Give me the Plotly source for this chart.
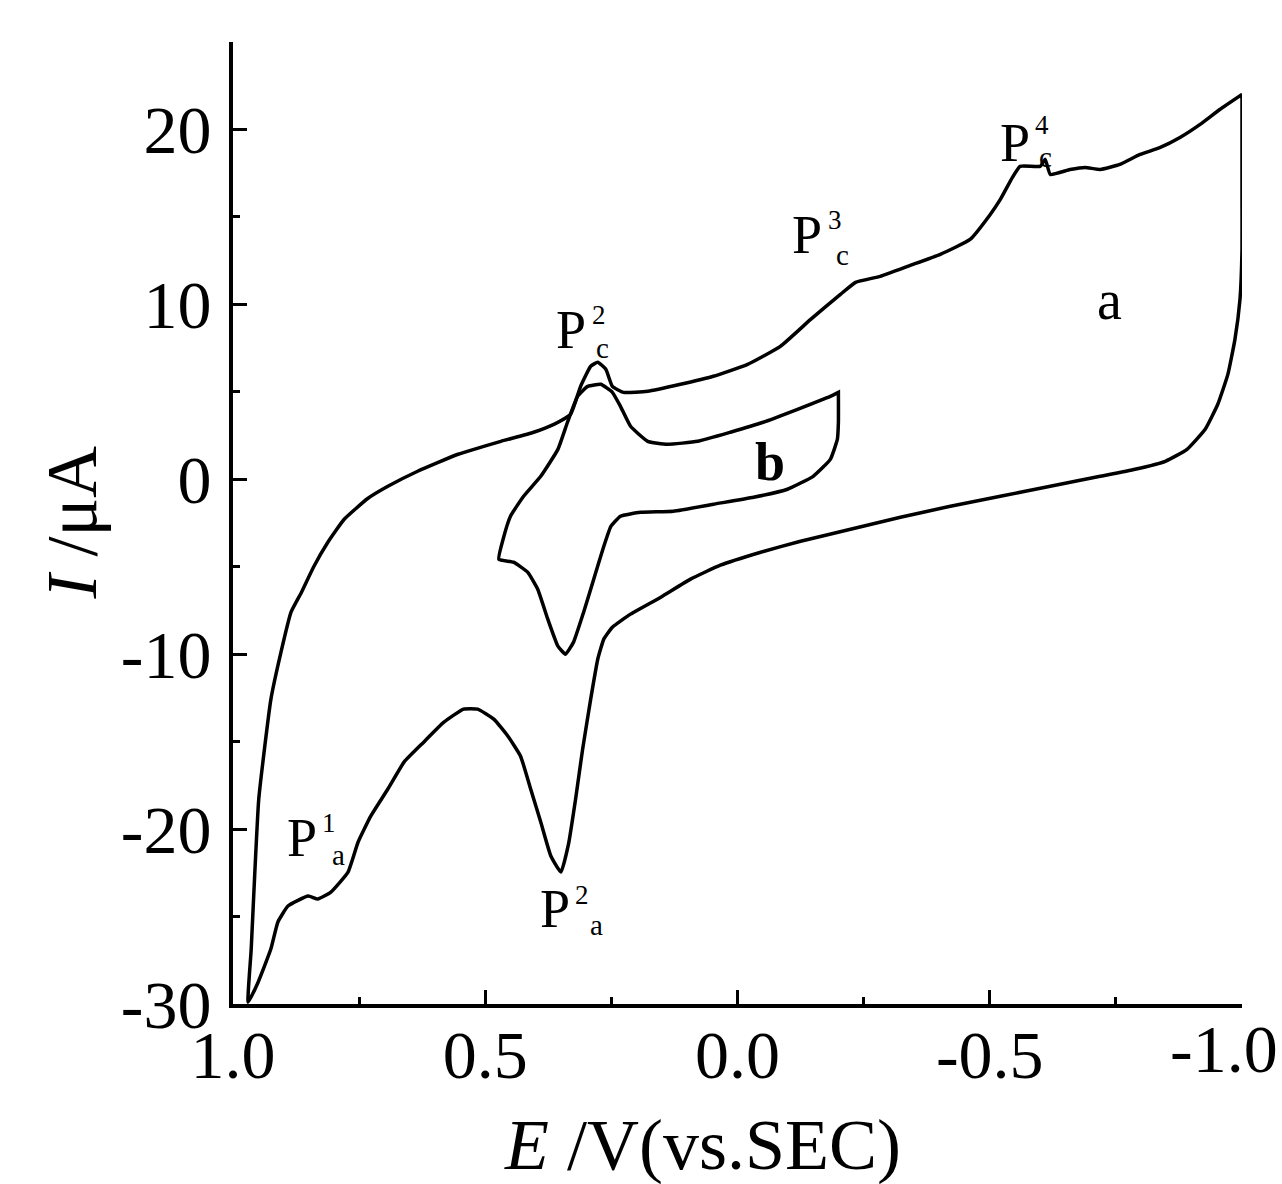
import plotly.graph_objects as go

# Cyclic voltammograms: curve a (wide window) and curve b (narrow window)
# Potential E in V (vs. SCE), current I in microampere.

# --- curve a, cathodic sweep (1.0 V -> -1.0 V)
a_fwd_E = [0.970, 0.964, 0.949, 0.925, 0.905, 0.885, 0.865, 0.840, 0.812, 0.780,
           0.733, 0.693, 0.634, 0.554, 0.469, 0.404, 0.364, 0.331, 0.311, 0.291,
           0.277, 0.261, 0.248, 0.226, 0.178, 0.113, 0.048, -0.020, -0.085, -0.145,
           -0.204, -0.234, -0.283, -0.340, -0.402, -0.461, -0.501, -0.521, -0.545, -0.560,
           -0.600, -0.610, -0.620, -0.659, -0.689, -0.719, -0.758, -0.798, -0.838, -0.877,
           -0.917, -0.956, -1.000]
a_fwd_I = [-29.9, -26.9, -18.3, -12.6, -9.9, -7.6, -6.5, -5.0, -3.6, -2.3,
           -1.1, -0.4, 0.46, 1.43, 2.17, 2.69, 3.14, 3.71, 5.31, 6.46,
           6.69, 6.29, 5.31, 4.97, 5.03, 5.43, 5.89, 6.57, 7.6, 9.14,
           10.57, 11.26, 11.6, 12.2, 12.86, 13.71, 15.14, 16.0, 17.26, 17.89,
           17.89, 18.29, 17.43, 17.71, 17.83, 17.71, 18.0, 18.57, 18.97, 19.54,
           20.29, 21.14, 22.0]

# --- curve a, anodic sweep (-1.0 V -> 1.0 V)
a_rev_E = [-1.000, -1.000, -1.000, -0.996, -0.986, -0.972, -0.952, -0.927, -0.891, -0.848,
           -0.788, -0.719, -0.620, -0.521, -0.422, -0.323, -0.224, -0.125, -0.046, 0.034,
           0.093, 0.152, 0.212, 0.248, 0.265, 0.277, 0.291, 0.307, 0.321, 0.335,
           0.350, 0.370, 0.390, 0.410, 0.430, 0.455, 0.483, 0.515, 0.543, 0.582,
           0.622, 0.661, 0.693, 0.727, 0.752, 0.772, 0.806, 0.832, 0.851, 0.891,
           0.911, 0.925, 0.950, 0.970]
a_rev_I = [22.0, 16.0, 13.14, 10.29, 8.0, 6.0, 4.29, 2.86, 1.71, 1.03,
           0.57, 0.17, -0.4, -0.97, -1.54, -2.17, -2.86, -3.54, -4.17, -4.91,
           -5.71, -6.74, -7.71, -8.46, -9.14, -10.29, -12.57, -15.43, -18.29, -20.86,
           -22.46, -21.54, -19.6, -17.71, -15.83, -14.69, -13.71, -13.14, -13.14, -13.89,
           -15.03, -16.17, -17.71, -19.26, -20.74, -22.46, -23.6, -24.0, -23.83, -24.4,
           -25.31, -26.86, -28.74, -29.9]

# --- curve b, cathodic sweep (0.47 V -> -0.2 V)
b_fwd_E = [0.473, 0.463, 0.450, 0.424, 0.390, 0.356, 0.337, 0.317, 0.297, 0.271,
           0.248, 0.232, 0.212, 0.178, 0.139, 0.079, 0.014, -0.051, -0.119, -0.184,
           -0.200]
b_fwd_I = [-4.57, -3.26, -2.11, -0.97, 0.17, 1.71, 3.26, 4.74, 5.31, 5.43,
           4.97, 4.17, 3.03, 2.17, 2.0, 2.17, 2.69, 3.26, 4.0, 4.74,
           4.97]

# --- curve b, anodic sweep (-0.2 V -> 0.47 V)
b_rev_E = [-0.200, -0.200, -0.198, -0.184, -0.150, -0.099, -0.032, 0.048, 0.127, 0.192,
           0.232, 0.251, 0.265, 0.285, 0.305, 0.325, 0.341, 0.356, 0.376, 0.396,
           0.416, 0.444, 0.473]
b_rev_I = [4.97, 3.26, 2.29, 1.14, 0.17, -0.57, -1.03, -1.43, -1.83, -1.89,
           -2.11, -2.69, -3.83, -5.71, -7.6, -9.31, -10.0, -9.54, -8.0, -6.29,
           -5.31, -4.74, -4.57]

x_tick_vals = [1.0, 0.5, 0.0, -0.5, -1.0]
x_tick_text = ["1.0", "0.5", "0.0", "-0.5", "-1.0"]
y_tick_vals = [20, 10, 0, -10, -20, -30]
y_tick_text = ["20", "10", "0", "-10", "-20", "-30"]

SERIF = "Liberation Serif, Times New Roman, serif"
INK = "black"
TICK_SIZE = 68

fig = go.Figure()
for xs, ys in ((a_fwd_E + a_rev_E, a_fwd_I + a_rev_I),
               (b_fwd_E + b_rev_E, b_fwd_I + b_rev_I)):
    fig.add_trace(go.Scatter(x=xs, y=ys, mode="lines",
                             line=dict(color=INK, width=3.5, shape="spline", smoothing=0.4),
                             hoverinfo="skip", showlegend=False))

# peak labels: P with stacked superscript index and subscript letter
peaks = [
    # (P x, P y, sup x, sup y, sub x, sub y, index, letter)
    (0.330, 8.53, 0.274, 9.39, 0.268, 7.50, "2", "c"),
    (-0.138, 13.96, -0.193, 14.82, -0.209, 12.82, "3", "c"),
    (-0.550, 19.23, -0.604, 20.26, -0.610, 18.43, "4", "c"),
    (0.863, -20.51, 0.810, -19.65, 0.790, -21.48, "1", "a"),
    (0.362, -24.57, 0.308, -23.77, 0.280, -25.49, "2", "a"),
]
for px, py, sx, sy, bx, by, idx, let in peaks:
    fig.add_annotation(x=px, y=py, text="P", showarrow=False,
                       font=dict(family=SERIF, size=54, color=INK))
    fig.add_annotation(x=sx, y=sy, text=idx, showarrow=False,
                       font=dict(family=SERIF, size=27, color=INK))
    fig.add_annotation(x=bx, y=by, text=let, showarrow=False,
                       font=dict(family=SERIF, size=29, color=INK))

fig.add_annotation(x=-0.738, y=10.25, text="a", showarrow=False,
                   font=dict(family=SERIF, size=56, color=INK))
fig.add_annotation(x=-0.064, y=0.99, text="<b>b</b>", showarrow=False,
                   font=dict(family=SERIF, size=54, color=INK))

# axis titles
fig.add_annotation(xref="paper", yref="paper", x=0.465, y=-0.147,
                   xanchor="center", yanchor="middle", showarrow=False,
                   text="<i>E</i> /V(vs.SEC)",
                   font=dict(family=SERIF, size=72, color=INK))
fig.add_annotation(xref="paper", yref="paper", x=-0.16, y=0.5,
                   xanchor="center", yanchor="middle", showarrow=False,
                   text="<i>I</i> /μA", textangle=-90,
                   font=dict(family=SERIF, size=72, color=INK))

# the last x label sits at the page edge: pull it inside, right-aligned
shown_x_text = x_tick_text[:-1] + [""]
fig.add_annotation(xref="paper", yref="paper", x=1.038, y=0.0,
                   xanchor="right", yanchor="top", yshift=-5, showarrow=False,
                   text=x_tick_text[-1],
                   font=dict(family=SERIF, size=TICK_SIZE, color=INK))

axis_common = dict(
    showgrid=False, zeroline=False, showline=True, linecolor=INK, linewidth=4,
    ticks="inside", ticklen=14, tickwidth=3, tickcolor=INK,
    tickfont=dict(family=SERIF, size=TICK_SIZE, color=INK),
    automargin=False, mirror=False,
)

fig.update_xaxes(
    range=[1.0, -1.0], tickmode="array", tickvals=x_tick_vals, ticktext=shown_x_text,
    minor=dict(ticks="inside", ticklen=7, tickwidth=3, tickcolor=INK, dtick=0.25),
    ticklabelstandoff=-12,
    **axis_common,
)
fig.update_yaxes(
    range=[-30, 25], tickmode="array", tickvals=y_tick_vals, ticktext=y_tick_text,
    minor=dict(ticks="inside", ticklen=7, tickwidth=3, tickcolor=INK, dtick=5),
    ticklabelstandoff=4,
    **axis_common,
)

fig.update_layout(
    width=1282, height=1184,
    margin=dict(l=233, r=40, t=42, b=180, pad=0, autoexpand=False),
    paper_bgcolor="white", plot_bgcolor="white",
)

fig.write_html("out.html")
